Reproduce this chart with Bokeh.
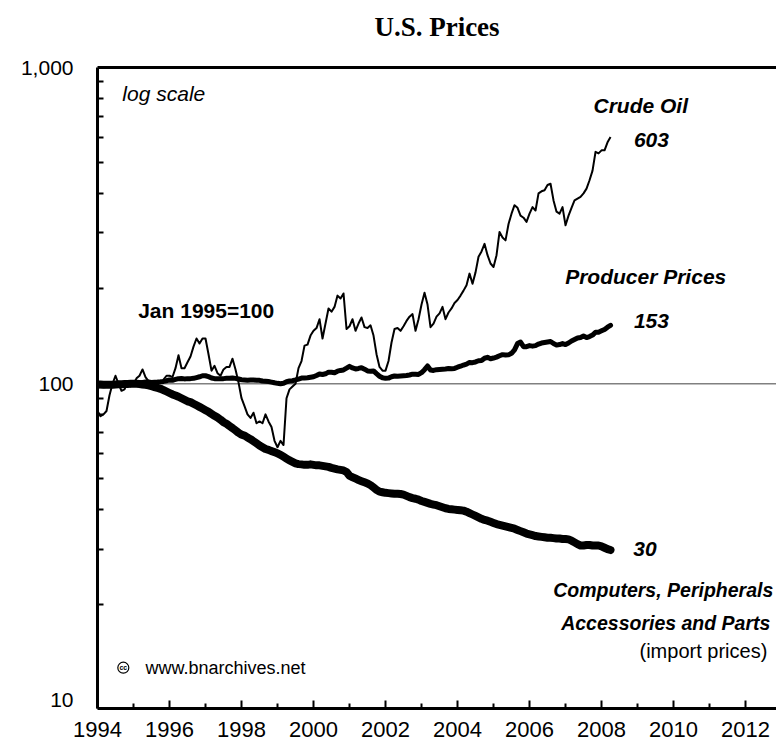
from bokeh.plotting import figure
from bokeh.models import (Range1d, FixedTicker, NumeralTickFormatter, LinearAxis,
                          Span, Label)
from bokeh.embed import file_html
from bokeh.resources import INLINE

START_YEAR = 1994
# Monthly indices, Jan 1995 = 100, Jan 1994 .. Apr 2008
crude_oil = [
    82, 79, 80, 82, 92, 100, 106, 100, 95, 96, 101, 98,           # 1994
    100, 104, 106, 111, 105, 102, 100, 101, 102, 101, 103, 106,   # 1995
    106, 105, 112, 123, 112, 112, 117, 122, 131, 139, 134, 139,   # 1996
    139, 124, 110, 114, 108, 106, 111, 113, 113, 120, 111, 101,   # 1997
    90, 85, 80, 78, 81, 75, 76, 75, 80, 76, 73, 66,               # 1998
    63, 66, 64, 90, 96, 98, 100, 112, 118, 132, 133, 142,         # 1999
    147, 150, 160, 139, 155, 173, 169, 175, 190, 186, 193, 149,   # 2000
    152, 160, 147, 155, 162, 151, 150, 153, 142, 124, 113, 110,   # 2001
    110, 118, 135, 149, 150, 147, 152, 158, 163, 166, 147, 160,   # 2002
    178, 194, 178, 151, 155, 163, 167, 175, 160, 168, 173, 180,   # 2003
    184, 190, 197, 205, 223, 207, 225, 252, 262, 277, 255, 240,   # 2004
    234, 255, 302, 290, 284, 320, 345, 367, 360, 340, 335, 325,   # 2005
    345, 362, 353, 400, 406, 409, 425, 429, 380, 350, 345, 362,   # 2006
    317, 340, 360, 380, 385, 390, 400, 414, 440, 472, 541, 535,   # 2007
    547, 547, 580, 603,                                           # 2008
]
producer_prices = [
    98.5, 98.6, 98.6, 98.7, 98.8, 99.0, 99.3, 99.5, 99.4, 99.3, 99.6, 99.8,
    100.0, 100.4, 100.6, 101.0, 101.2, 101.2, 101.0, 101.1, 101.2, 101.4, 101.7, 102.2,
    102.8, 102.6, 103.2, 103.8, 103.9, 103.6, 103.8, 103.8, 104.0, 104.6, 105.2, 106.0,
    106.0, 105.3, 104.3, 103.8, 103.8, 103.7, 103.8, 104.0, 104.1, 104.3, 104.0, 103.5,
    103.0, 102.8, 102.6, 102.7, 102.8, 102.6, 102.5, 102.0, 101.8, 101.6, 101.2, 100.7,
    100.3, 100.0, 100.4, 101.5, 102.0, 102.2, 102.8, 103.5, 104.2, 104.2, 104.4, 104.8,
    105.2, 106.2, 107.4, 107.0, 107.5, 108.8, 108.8, 108.4, 109.6, 110.2, 110.6, 112.0,
    113.5, 112.2, 111.4, 111.8, 112.4, 111.2, 109.8, 109.6, 109.8, 107.6, 105.6, 104.4,
    104.0, 104.2, 105.2, 105.8, 105.6, 105.8, 106.0, 106.2, 106.6, 107.2, 107.2, 107.0,
    108.4, 110.8, 113.8, 110.6, 110.2, 110.8, 111.0, 111.2, 111.4, 111.8, 111.6, 111.8,
    112.8, 113.6, 114.6, 115.4, 116.8, 116.6, 117.2, 118.2, 118.4, 120.4, 121.2, 120.0,
    120.6, 121.4, 122.6, 123.6, 123.2, 123.4, 124.8, 128.0, 134.0, 135.5, 131.0, 131.0,
    132.0, 131.5, 132.0, 133.5, 134.5, 135.0, 135.5, 136.0, 134.0, 132.5, 133.0, 134.0,
    133.0, 134.5, 136.5, 138.0, 139.5, 140.0, 141.5, 140.0, 141.0, 142.5, 145.5, 145.5,
    147.0, 148.5, 151.0, 153.0,
]
computers = [
    99.5, 99.4, 99.3, 99.3, 99.2, 99.3, 99.5, 99.6, 99.7, 99.8, 99.9, 100.0,
    100.0, 100.0, 99.8, 99.5, 99.2, 98.8, 98.2, 97.6, 97.0, 96.4, 95.5, 94.5,
    93.5, 92.5, 91.8, 91.0, 90.0, 89.0, 88.0, 87.5, 86.5, 85.5, 84.5, 83.5,
    82.5, 81.5, 80.3, 79.2, 78.2, 77.0, 75.6, 74.7, 73.5, 72.4, 71.2, 70.0,
    69.0, 68.6, 67.6, 66.8, 65.8, 64.8, 63.8, 63.0, 62.2, 61.8, 61.2, 60.8,
    60.2, 59.6, 58.8, 58.0, 57.2, 56.6, 56.0, 55.7, 55.6, 55.4, 55.4, 55.6,
    55.4, 55.2, 55.2, 55.0, 54.8, 54.6, 54.2, 53.9, 53.6, 53.4, 53.2, 52.6,
    51.2, 50.6, 50.2, 49.6, 49.2, 48.8, 48.4, 47.8, 47.0, 46.2, 45.6, 45.4,
    45.2, 45.1, 45.0, 44.9, 44.9, 44.8, 44.6, 44.2, 43.8, 43.5, 43.3, 43.0,
    42.6, 42.3, 42.0, 41.7, 41.5, 41.3, 41.0, 40.7, 40.4, 40.2, 40.1, 40.0,
    39.9, 39.8, 39.7, 39.4, 39.0, 38.6, 38.2, 37.8, 37.4, 37.1, 36.9, 36.6,
    36.3, 36.0, 35.8, 35.6, 35.4, 35.2, 35.0, 34.8, 34.5, 34.2, 33.9, 33.6,
    33.4, 33.2, 33.0, 32.9, 32.8, 32.7, 32.6, 32.6, 32.5, 32.4, 32.4, 32.3,
    32.3, 32.2, 31.9, 31.5, 31.1, 30.8, 30.8, 30.9, 30.9, 30.8, 30.8, 30.8,
    30.6, 30.3, 30.0, 29.8,
]
x_major = list(range(1994, 2013, 2))
x_minor = list(range(1995, 2013, 2))
y_major = [10, 100, 1000]
y_minor = [20, 30, 40, 50, 60, 70, 80, 90, 200, 300, 400, 500, 600, 700, 800, 900]

months = [START_YEAR + i / 12 for i in range(len(crude_oil))]

p = figure(width=776, height=747, y_axis_type="log", title=None,
           x_range=Range1d(1994, 2012.86), y_range=Range1d(9.4, 1000),
           output_backend="svg", toolbar_location=None,
           min_border_left=97, min_border_right=0, min_border_top=67,
           min_border_bottom=39, background_fill_color="white",
           border_fill_color="white", outline_line_color=None)
p.xgrid.visible = False
p.ygrid.visible = False

FONT = "Liberation Sans"

xa = p.xaxis[0]
xa.ticker = FixedTicker(ticks=x_major, minor_ticks=x_minor)
xa.axis_line_width = 3
xa.major_tick_in = 8
xa.major_tick_out = 0
xa.minor_tick_in = 5
xa.minor_tick_out = 0
xa.major_tick_line_width = 2
xa.minor_tick_line_width = 2
xa.major_label_text_font = FONT
xa.major_label_text_font_size = "22px"
xa.major_label_text_color = "black"
xa.major_label_standoff = 13

ya = p.yaxis[0]
ya.ticker = FixedTicker(ticks=y_major, minor_ticks=y_minor)
ya.formatter = NumeralTickFormatter(format="0,0")
ya.axis_line_width = 3
ya.major_tick_in = 0
ya.major_tick_out = 0
ya.minor_tick_in = 6
ya.minor_tick_out = 0
ya.minor_tick_line_width = 2
ya.major_label_text_font = FONT
ya.major_label_text_font_size = "21px"
ya.major_label_text_color = "black"
ya.major_label_standoff = 24

# top border of the frame, carrying the chart title as its label
top = LinearAxis(ticker=FixedTicker(ticks=[]), axis_line_width=3,
                 major_tick_in=0, major_tick_out=0, minor_tick_in=0, minor_tick_out=0,
                 major_label_text_font_size="0px", major_label_standoff=0,
                 axis_label="U.S. Prices", axis_label_text_font="Liberation Serif",
                 axis_label_text_font_style="bold", axis_label_text_font_size="27px",
                 axis_label_text_color="black", axis_label_standoff=26)
p.add_layout(top, "above")

p.add_layout(Span(location=100, dimension="width", line_color="#808080",
                  line_width=1.5, level="underlay"))

p.line(months, computers, line_color="black", line_width=8, line_join="round", line_cap="round")
p.line(months, producer_prices, line_color="black", line_width=5, line_join="round", line_cap="round")
p.line(months, crude_oil, line_color="black", line_width=2, line_join="round")

def lab(x, y, text, style="bold italic", size="21px", align="left", baseline="middle"):
    p.add_layout(Label(x=x, y=y, text=text, text_font=FONT, text_font_style=style,
                       text_font_size=size, text_align=align, text_baseline=baseline,
                       text_color="black"))

lab(1994.69, 829, "log scale", style="italic")
lab(2009.09, 760, "Crude Oil", align="center")
lab(2008.9, 589, "603")
lab(2006.99, 218.6, "Producer Prices")
lab(2008.9, 157.5, "153")
lab(1995.13, 170.6, "Jan 1995=100", style="bold")
lab(2008.88, 30.1, "30")
lab(2012.77, 22.2, "Computers, Peripherals", size="19.5px", align="right")
lab(2012.69, 17.57, "Accessories and Parts", size="19.5px", align="right")
lab(2010.83, 14.32, "(import prices)", style="normal", size="20px", align="center")
lab(1995.33, 12.65, "www.bnarchives.net", style="normal", size="18px")

p.scatter([1994.717], [12.65], marker="circle", size=11, fill_color=None,
          line_color="black", line_width=1.2)
p.text([1994.717], [12.65], text=["cc"], text_font_size="7px", text_font_style="bold",
       text_align="center", text_baseline="middle", text_color="black")

open("out.html", "w").write(file_html(p, INLINE))
